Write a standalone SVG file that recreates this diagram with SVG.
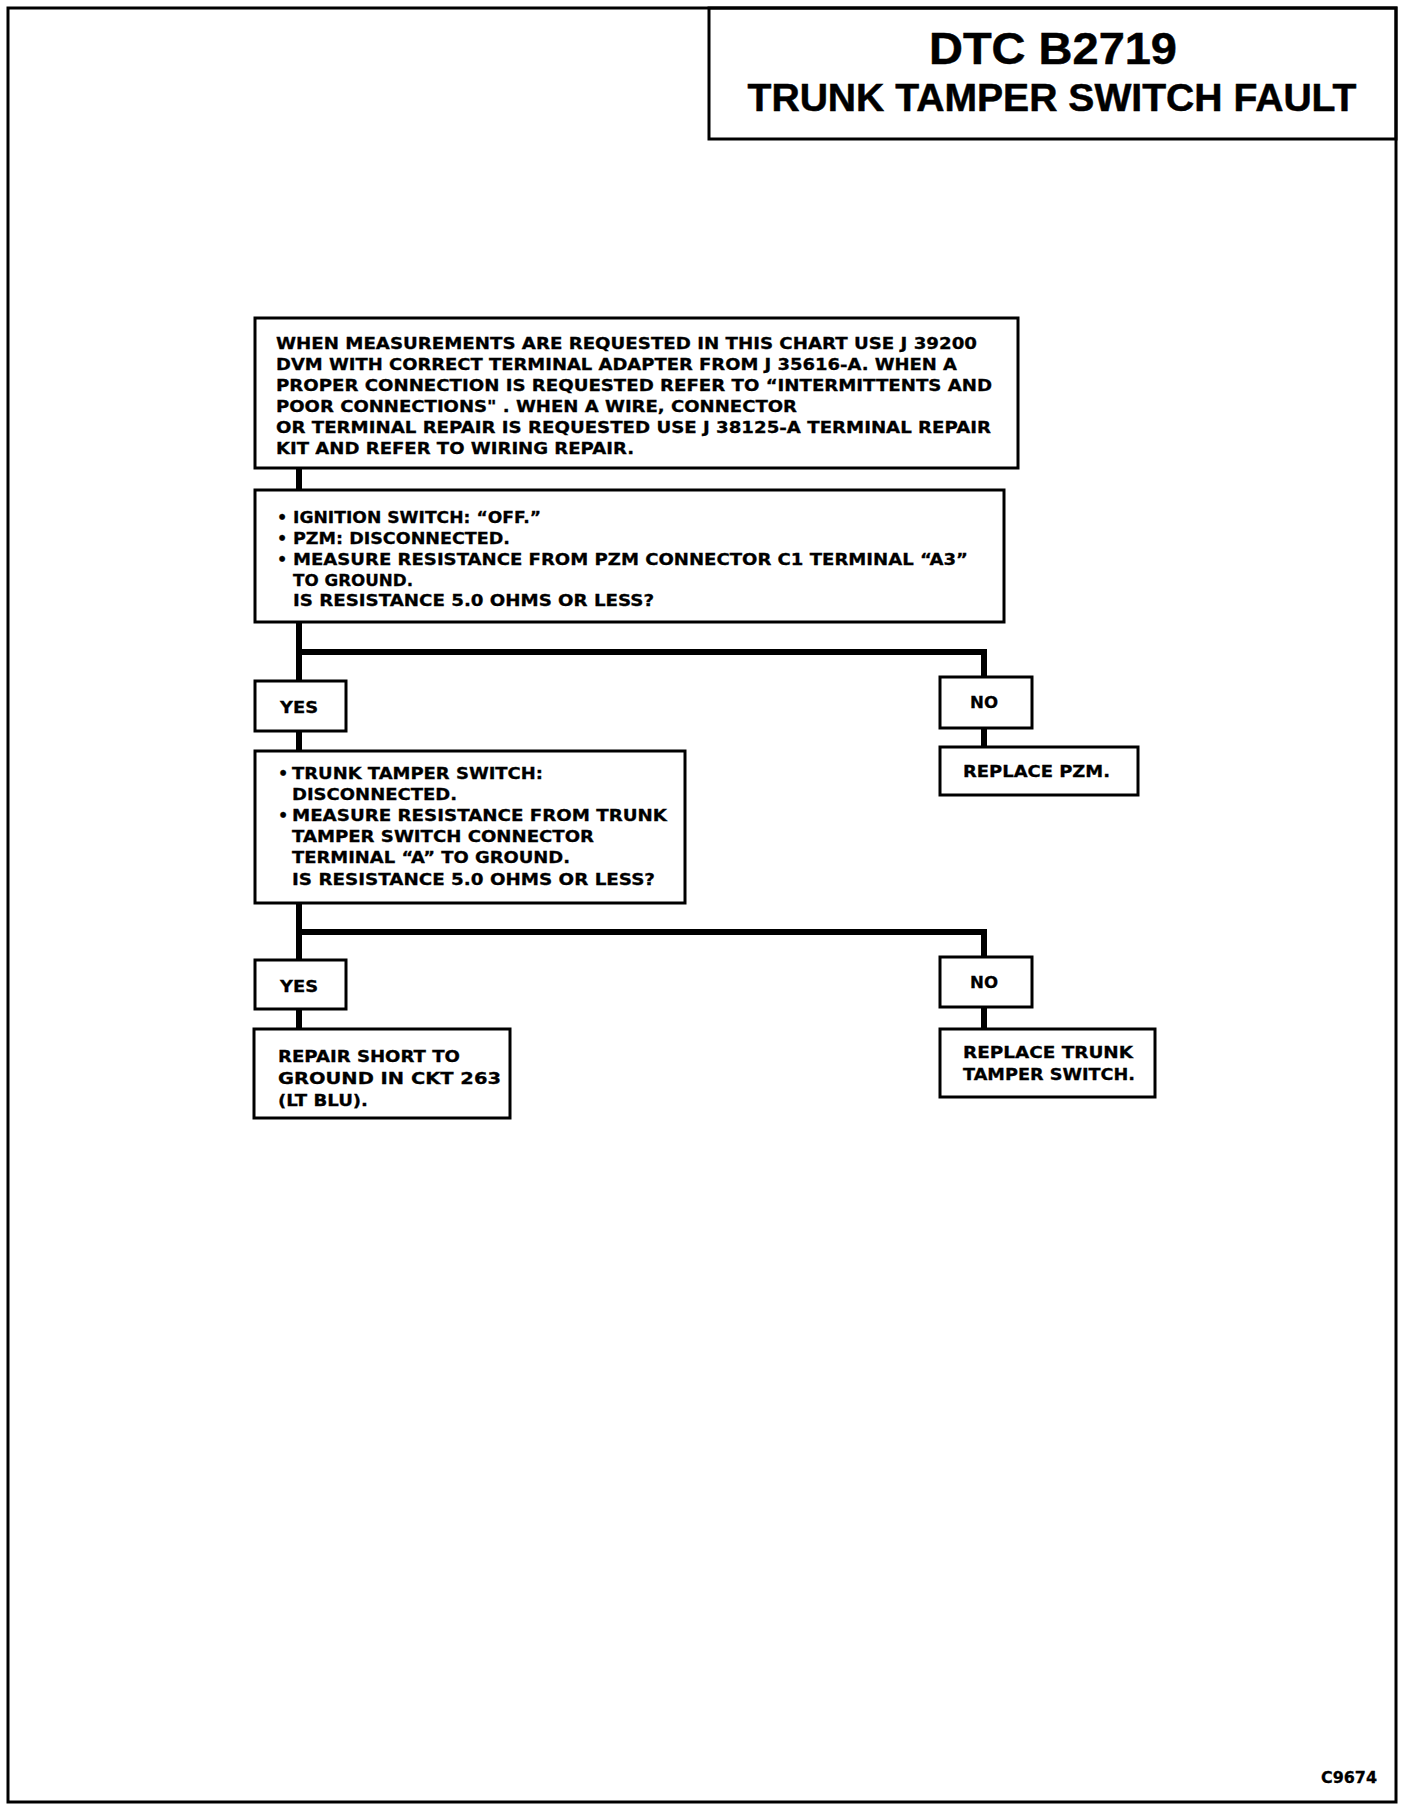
<svg xmlns="http://www.w3.org/2000/svg" width="1408" height="1808" viewBox="0 0 1408 1808">
<style>
.frame{fill:none;stroke:#000;stroke-width:3}
.box{fill:#fff;stroke:#000;stroke-width:3}
.con{fill:none;stroke:#000;stroke-width:6;stroke-linejoin:miter;stroke-linecap:butt}
.t{font-family:"DejaVu Sans","Liberation Sans",sans-serif;font-weight:bold;font-size:16px;fill:#000;stroke:#000;stroke-width:0.3}
.h{font-family:"Liberation Sans",Arial,sans-serif;font-weight:bold;fill:#000;stroke:#000;stroke-width:0.5}
</style>
<rect width="1408" height="1808" fill="#fff"/>
<rect class="frame" x="8" y="8" width="1388" height="1794"/>
<g id="title">
<rect class="frame" x="709" y="8" width="687" height="131"/>
<text class="h" x="1053" y="64" font-size="44" text-anchor="middle" textLength="248" lengthAdjust="spacingAndGlyphs">DTC B2719</text>
<text class="h" x="1052" y="111" font-size="38" text-anchor="middle" textLength="609" lengthAdjust="spacingAndGlyphs">TRUNK TAMPER SWITCH FAULT</text>
</g>
<g id="connectors">
<path class="con" d="M299 468V490"/>
<path class="con" d="M299 622V681"/>
<path class="con" d="M299 652H984V677"/>
<path class="con" d="M299 731V751"/>
<path class="con" d="M984 728V747"/>
<path class="con" d="M299 903V960"/>
<path class="con" d="M299 932H984V957"/>
<path class="con" d="M299 1009V1029"/>
<path class="con" d="M984 1007V1029"/>
</g>
<g id="note">
<rect class="box" x="255" y="318" width="763" height="150"/>
<text class="t" x="276" y="349" textLength="701" lengthAdjust="spacingAndGlyphs">WHEN MEASUREMENTS ARE REQUESTED IN THIS CHART USE J 39200</text>
<text class="t" x="276" y="370" textLength="681" lengthAdjust="spacingAndGlyphs">DVM WITH CORRECT TERMINAL ADAPTER FROM J 35616-A. WHEN A</text>
<text class="t" x="276" y="391" textLength="716" lengthAdjust="spacingAndGlyphs">PROPER CONNECTION IS REQUESTED REFER TO “INTERMITTENTS AND</text>
<text class="t" x="276" y="412" textLength="521" lengthAdjust="spacingAndGlyphs">POOR CONNECTIONS" . WHEN A WIRE, CONNECTOR</text>
<text class="t" x="276" y="433" textLength="715" lengthAdjust="spacingAndGlyphs">OR TERMINAL REPAIR IS REQUESTED USE J 38125-A TERMINAL REPAIR</text>
<text class="t" x="276" y="454" textLength="358" lengthAdjust="spacingAndGlyphs">KIT AND REFER TO WIRING REPAIR.</text>
</g>
<g id="step1">
<rect class="box" x="255" y="490" width="749" height="132"/>
<text class="t" x="277" y="523">•</text>
<text class="t" x="293" y="523" textLength="248" lengthAdjust="spacingAndGlyphs">IGNITION SWITCH: “OFF.”</text>
<text class="t" x="277" y="544">•</text>
<text class="t" x="293" y="544" textLength="217" lengthAdjust="spacingAndGlyphs">PZM: DISCONNECTED.</text>
<text class="t" x="277" y="565">•</text>
<text class="t" x="293" y="565" textLength="675" lengthAdjust="spacingAndGlyphs">MEASURE RESISTANCE FROM PZM CONNECTOR C1 TERMINAL “A3”</text>
<text class="t" x="293" y="586" textLength="120" lengthAdjust="spacingAndGlyphs">TO GROUND.</text>
<text class="t" x="293" y="606" textLength="361" lengthAdjust="spacingAndGlyphs">IS RESISTANCE 5.0 OHMS OR LESS?</text>
</g>
<g id="yes1">
<rect class="box" x="255" y="681" width="91" height="50"/>
<text class="t" x="280" y="713" font-size="16.5" textLength="38" lengthAdjust="spacingAndGlyphs">YES</text>
</g>
<g id="no1">
<rect class="box" x="940" y="677" width="92" height="51"/>
<text class="t" x="970" y="708" font-size="16.5" textLength="28" lengthAdjust="spacingAndGlyphs">NO</text>
</g>
<g id="replace-pzm">
<rect class="box" x="940" y="747" width="198" height="48"/>
<text class="t" x="963" y="777" textLength="147" lengthAdjust="spacingAndGlyphs">REPLACE PZM.</text>
</g>
<g id="step2">
<rect class="box" x="255" y="751" width="430" height="152"/>
<text class="t" x="278" y="779">•</text>
<text class="t" x="292" y="779" textLength="251" lengthAdjust="spacingAndGlyphs">TRUNK TAMPER SWITCH:</text>
<text class="t" x="292" y="800" textLength="165" lengthAdjust="spacingAndGlyphs">DISCONNECTED.</text>
<text class="t" x="278" y="821">•</text>
<text class="t" x="292" y="821" textLength="375" lengthAdjust="spacingAndGlyphs">MEASURE RESISTANCE FROM TRUNK</text>
<text class="t" x="292" y="842" textLength="302" lengthAdjust="spacingAndGlyphs">TAMPER SWITCH CONNECTOR</text>
<text class="t" x="292" y="863" textLength="278" lengthAdjust="spacingAndGlyphs">TERMINAL “A” TO GROUND.</text>
<text class="t" x="292" y="885" textLength="363" lengthAdjust="spacingAndGlyphs">IS RESISTANCE 5.0 OHMS OR LESS?</text>
</g>
<g id="yes2">
<rect class="box" x="255" y="960" width="91" height="49"/>
<text class="t" x="280" y="992" font-size="16.5" textLength="38" lengthAdjust="spacingAndGlyphs">YES</text>
</g>
<g id="no2">
<rect class="box" x="940" y="957" width="92" height="50"/>
<text class="t" x="970" y="988" font-size="16.5" textLength="28" lengthAdjust="spacingAndGlyphs">NO</text>
</g>
<g id="repair-short">
<rect class="box" x="254" y="1029" width="256" height="89"/>
<text class="t" x="278" y="1062" textLength="182" lengthAdjust="spacingAndGlyphs">REPAIR SHORT TO</text>
<text class="t" x="278" y="1084" textLength="223" lengthAdjust="spacingAndGlyphs">GROUND IN CKT 263</text>
<text class="t" x="278" y="1106" textLength="90" lengthAdjust="spacingAndGlyphs">(LT BLU).</text>
</g>
<g id="replace-switch">
<rect class="box" x="940" y="1029" width="215" height="68"/>
<text class="t" x="963" y="1058" textLength="170" lengthAdjust="spacingAndGlyphs">REPLACE TRUNK</text>
<text class="t" x="963" y="1080" textLength="172" lengthAdjust="spacingAndGlyphs">TAMPER SWITCH.</text>
</g>
<text class="t" x="1321" y="1783" font-size="15" textLength="56" lengthAdjust="spacingAndGlyphs">C9674</text>
</svg>
